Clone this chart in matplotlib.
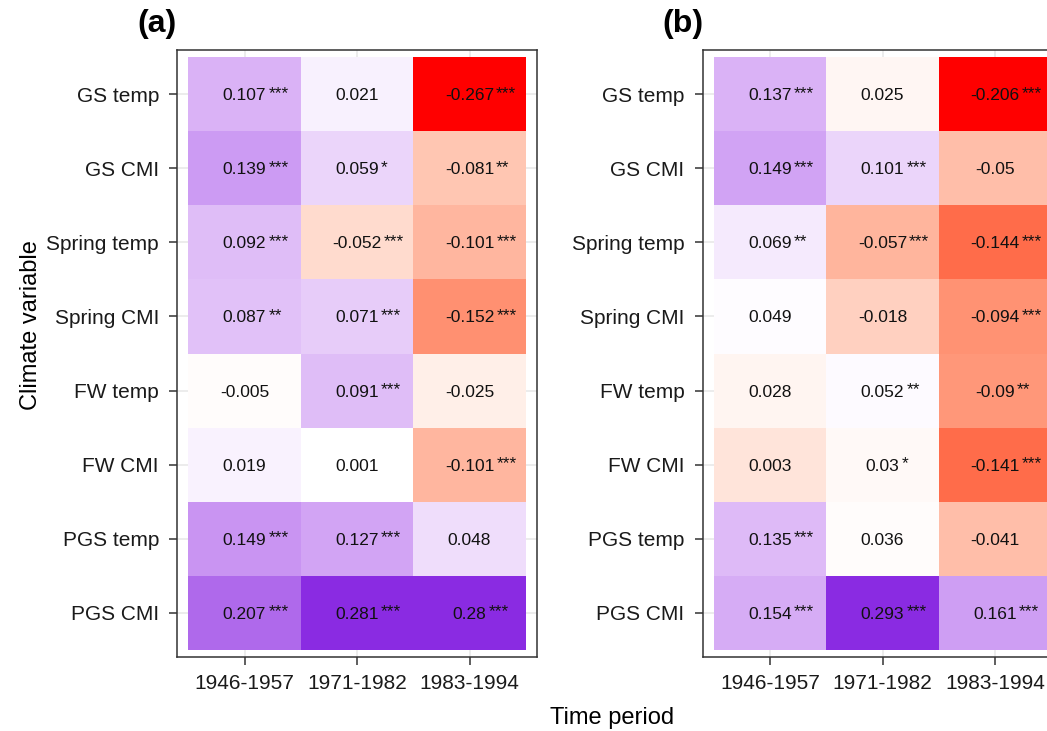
import numpy as np
import matplotlib
matplotlib.use('Agg')
import matplotlib.pyplot as plt
from matplotlib.colors import ListedColormap, TwoSlopeNorm

plt.rcParams['font.family'] = 'Liberation Sans'

variables = ['GS temp', 'GS CMI', 'Spring temp', 'Spring CMI',
             'FW temp', 'FW CMI', 'PGS temp', 'PGS CMI']
periods = ['1946-1957', '1971-1982', '1983-1994']

# panel (a) values (rows = variables, cols = periods)
vals_a = [[0.107, 0.021, -0.267],
          [0.139, 0.059, -0.081],
          [0.092, -0.052, -0.101],
          [0.087, 0.071, -0.152],
          [-0.005, 0.091, -0.025],
          [0.019, 0.001, -0.101],
          [0.149, 0.127, 0.048],
          [0.207, 0.281, 0.28]]
stars_a = [['***', '', '***'],
           ['***', '*', '**'],
           ['***', '***', '***'],
           ['**', '***', '***'],
           ['', '***', ''],
           ['', '', '***'],
           ['***', '***', ''],
           ['***', '***', '***']]

# panel (b) values
vals_b = [[0.137, 0.025, -0.206],
          [0.149, 0.101, -0.05],
          [0.069, -0.057, -0.144],
          [0.049, -0.018, -0.094],
          [0.028, 0.052, -0.09],
          [0.003, 0.03, -0.141],
          [0.135, 0.036, -0.041],
          [0.154, 0.293, 0.161]]
stars_b = [['***', '', '***'],
           ['***', '***', ''],
           ['**', '***', '***'],
           ['', '', '***'],
           ['', '**', '**'],
           ['', '*', '***'],
           ['***', '', ''],
           ['***', '***', '***']]
# tile shading in panel (b)
shade_b = [[0.11, -0.01, -0.206],
           [0.135, 0.06, -0.07],
           [0.03, -0.08, -0.15],
           [0.005, -0.05, -0.115],
           [-0.012, 0.008, -0.11],
           [-0.03, -0.008, -0.15],
           [0.10, -0.004, -0.07],
           [0.12, 0.293, 0.14]]


def srgb_to_lab(c):
    c = np.asarray(c, float)
    lin = np.where(c <= 0.04045, c / 12.92, ((c + 0.055) / 1.055) ** 2.4)
    M = np.array([[0.4124, 0.3576, 0.1805],
                  [0.2126, 0.7152, 0.0722],
                  [0.0193, 0.1192, 0.9505]])
    t = (M @ lin) / np.array([0.95047, 1.0, 1.08883])
    d = 6 / 29
    f = np.where(t > d ** 3, np.cbrt(t), t / (3 * d * d) + 4 / 29)
    return np.array([116 * f[1] - 16, 500 * (f[0] - f[1]), 200 * (f[1] - f[2])])


def lab_to_srgb(lab):
    L, a, b = lab
    fy = (L + 16) / 116
    f = np.array([fy + a / 500, fy, fy - b / 200])
    d = 6 / 29
    t = np.where(f > d, f ** 3, 3 * d * d * (f - 4 / 29))
    xyz = t * np.array([0.95047, 1.0, 1.08883])
    Minv = np.array([[3.2406, -1.5372, -0.4986],
                     [-0.9689, 1.8758, 0.0415],
                     [0.0557, -0.2040, 1.0570]])
    lin = np.clip(Minv @ xyz, 0, 1)
    c = np.where(lin <= 0.0031308, 12.92 * lin, 1.055 * lin ** (1 / 2.4) - 0.055)
    return np.clip(c, 0, 1)


# red - white - purple gradient interpolated in Lab (like ggplot's gradient2)
low = srgb_to_lab([1.0, 0.0, 0.0])
mid = srgb_to_lab([1.0, 1.0, 1.0])
high = srgb_to_lab(np.array([138, 43, 226]) / 255)
cols = []
for t in np.linspace(0, 1, 128):
    cols.append(lab_to_srgb(low + (mid - low) * t))
for t in np.linspace(0, 1, 128):
    cols.append(lab_to_srgb(mid + (high - mid) * t))
cmap = ListedColormap(cols)

fig = plt.figure(figsize=(10.47, 7.31), dpi=100)
W, H = 1047, 731


def panel(left, vals, stars, shade, tag):
    ax = fig.add_axes([left / W, 1 - 657 / H, 360 / W, 607 / H])
    shade = np.array(shade)
    norm = TwoSlopeNorm(vcenter=0, vmin=shade.min(), vmax=shade.max())
    ax.set_axisbelow(True)
    ax.grid(True, color='#ebebeb', lw=1.3, zorder=0)
    xe = np.arange(len(periods) + 1) - 0.5
    ye = np.arange(len(variables) + 1) - 0.5
    ax.pcolormesh(xe, ye, shade, cmap=cmap, norm=norm, zorder=1)
    for i in range(len(variables)):
        for j in range(len(periods)):
            num = ax.text(j, i, f"{vals[i][j]:g}", ha='center', va='center_baseline',
                          fontsize=12.5, color='#111111', zorder=3)
            if stars[i][j]:
                # stars hang off the right of the centred number, raised a little
                ax.annotate(stars[i][j], xy=(1, i), xycoords=(num, 'data'),
                            xytext=(1.5, 2), textcoords='offset points',
                            ha='left', va='center_baseline', fontsize=12.5,
                            color='#111111', zorder=3)
    ax.set_xlim(-0.6, len(periods) - 0.4)
    ax.set_ylim(len(variables) - 0.4, -0.6)
    ax.set_xticks(range(len(periods)))
    ax.set_xticklabels(periods)
    ax.set_yticks(range(len(variables)))
    ax.set_yticklabels(variables)
    ax.tick_params(length=6, width=1.1, color='#333333', labelsize=15,
                   labelcolor='#1a1a1a')
    ax.tick_params(axis='y', pad=7)
    ax.tick_params(axis='x', pad=6)
    for sp in ax.spines.values():
        sp.set_color('#333333')
        sp.set_linewidth(1.1)
    fig.text((left - 40) / W, 1 - 24 / H, tag, fontsize=23, fontweight='bold',
             ha='left', va='center')
    return ax


panel(177, vals_a, stars_a, vals_a, '(a)')
panel(702.5, vals_b, stars_b, shade_b, '(b)')

fig.text(612 / W, 1 - 718 / H, 'Time period', fontsize=17, ha='center', va='center')
fig.text(31 / W, 1 - 325 / H, 'Climate variable', fontsize=17, ha='center',
         va='center', rotation=90)

fig.savefig('out.png', dpi=100)
